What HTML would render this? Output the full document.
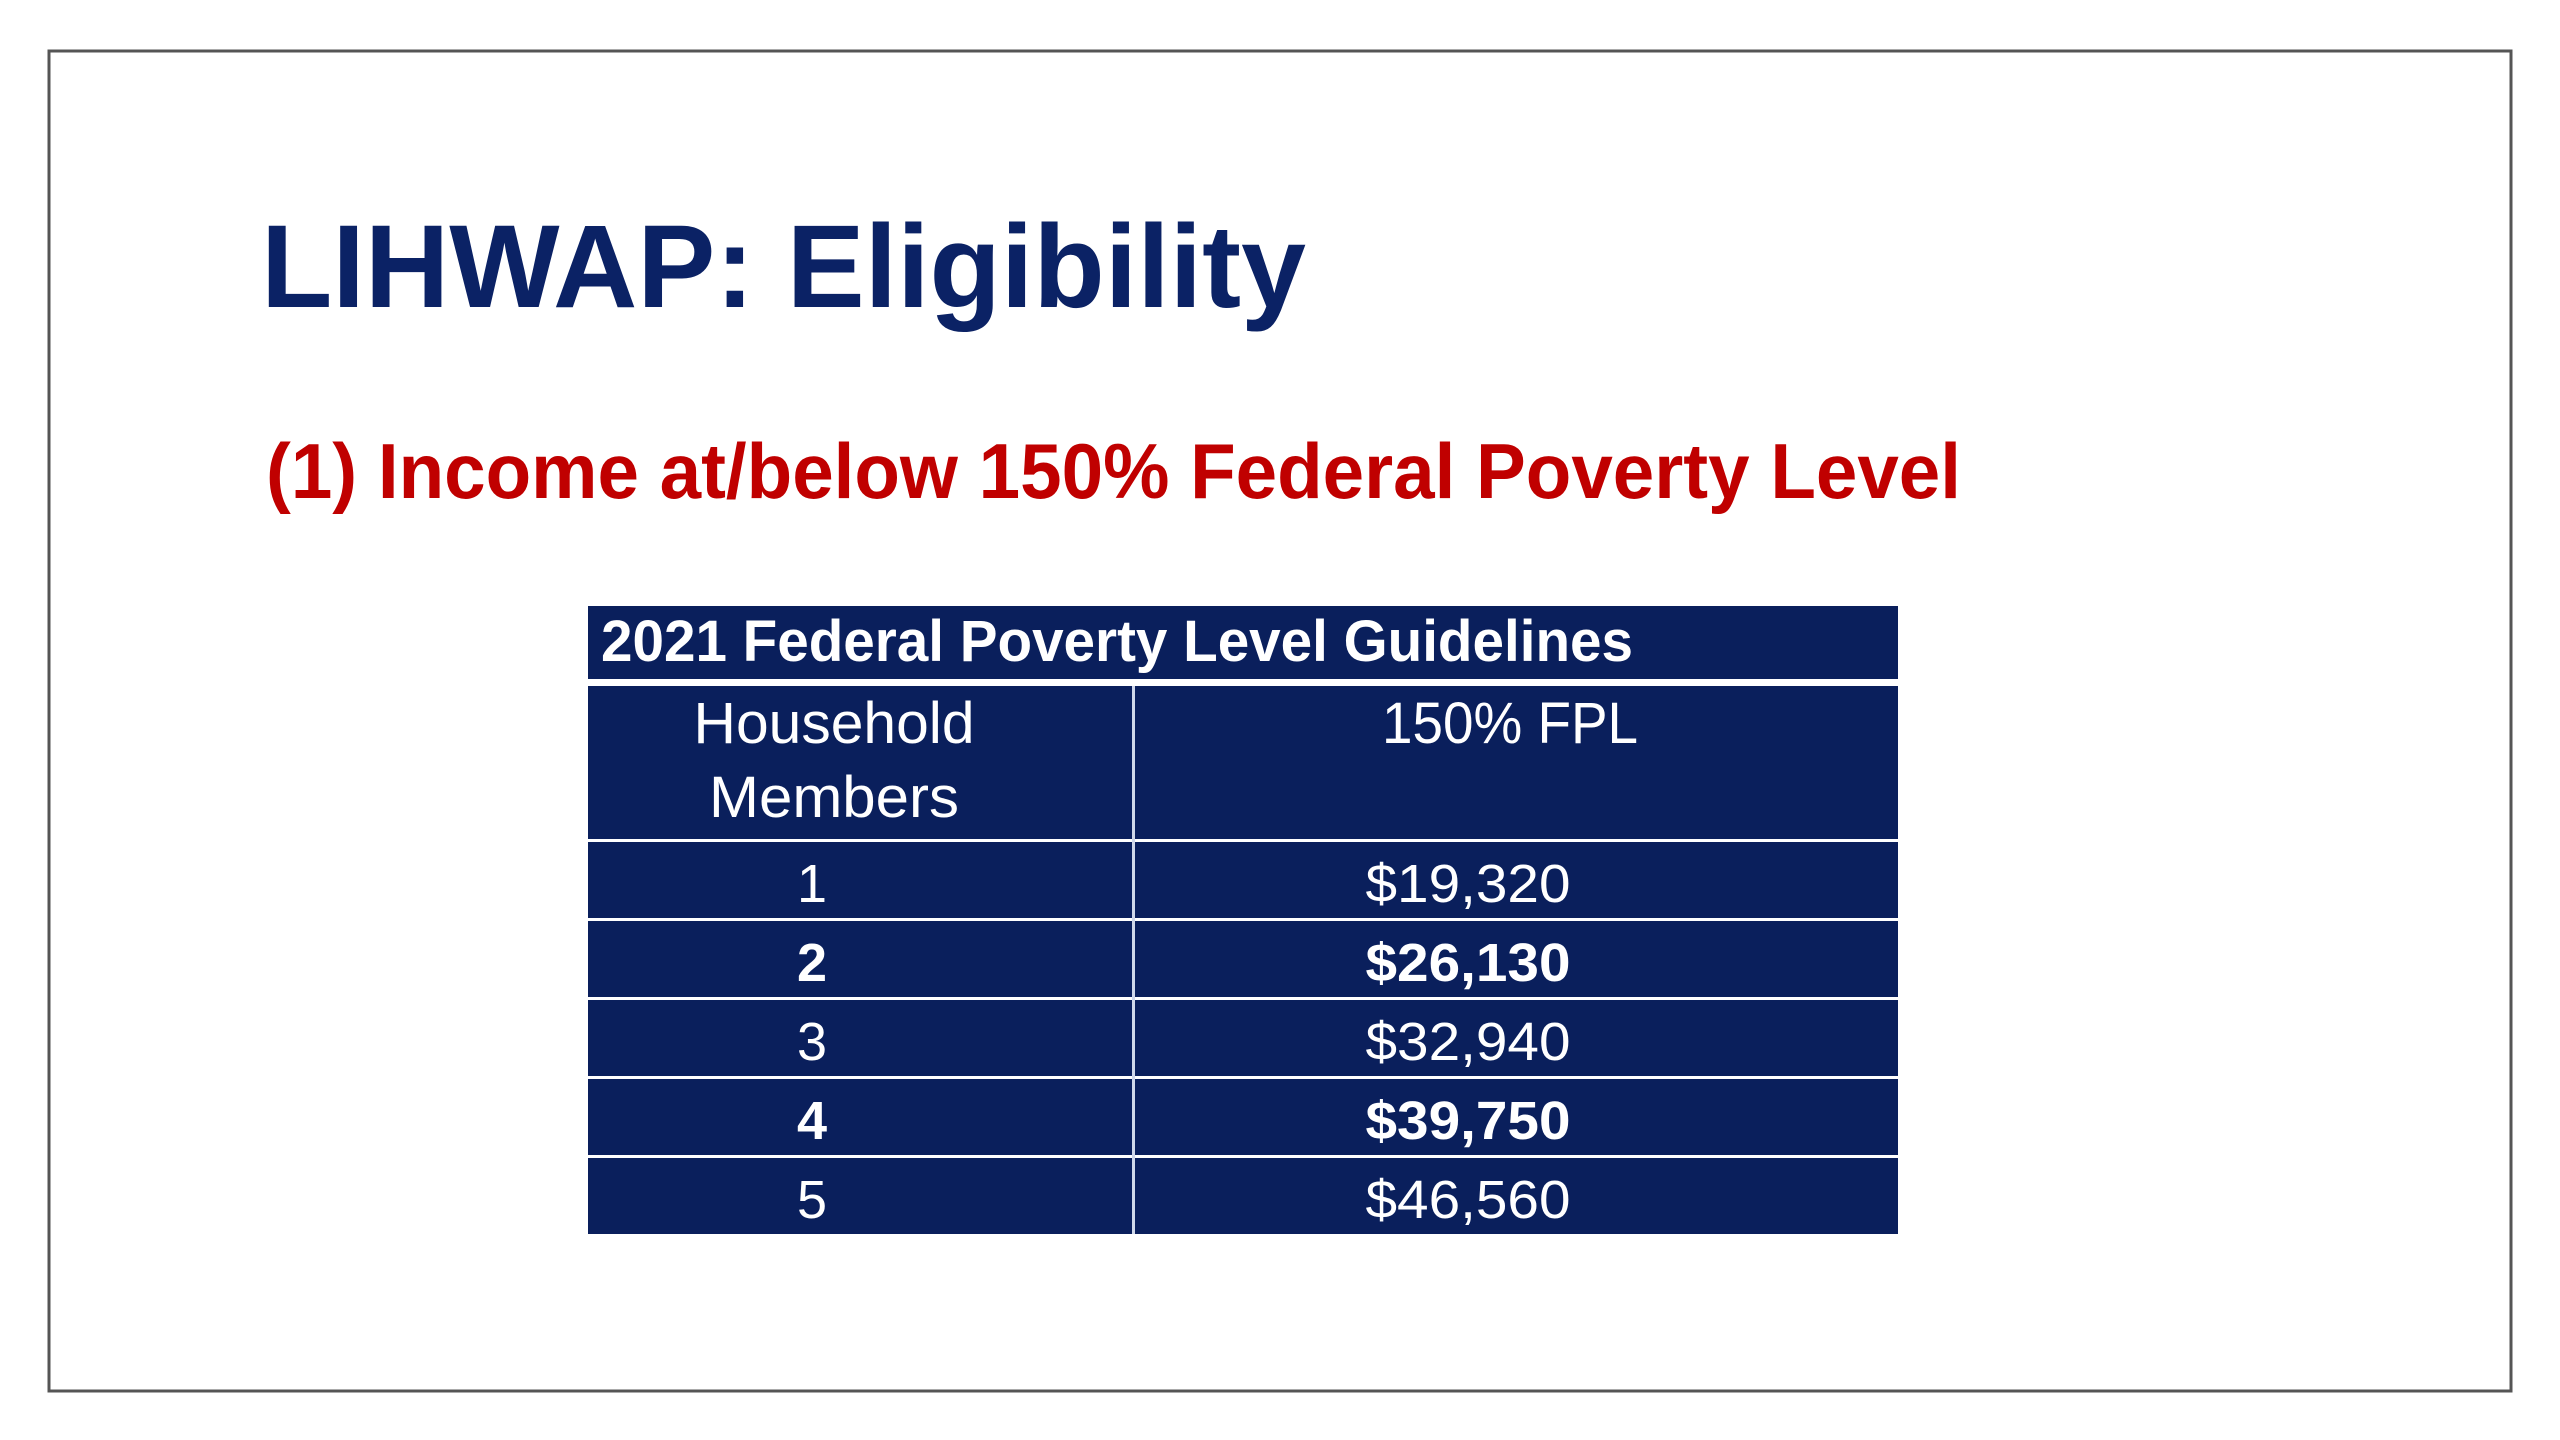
<!DOCTYPE html>
<html><head><meta charset="utf-8"><style>
html,body{margin:0;padding:0;background:#fff;}
svg{display:block;}
</style></head><body>
<svg width="2560" height="1440" viewBox="0 0 2560 1440" xmlns="http://www.w3.org/2000/svg">
<rect x="0" y="0" width="2560" height="1440" fill="#fff"/>
<rect x="49" y="51" width="2462" height="1340" fill="none" stroke="#555" stroke-width="3"/>
<text x="261" y="307" font-family="'Liberation Sans',sans-serif" font-weight="bold" font-size="118" fill="#0b2265" textLength="1045" lengthAdjust="spacingAndGlyphs">LIHWAP: Eligibility</text>
<text x="266" y="498" font-family="'Liberation Sans',sans-serif" font-weight="bold" font-size="78" fill="#c00000" textLength="1695" lengthAdjust="spacingAndGlyphs">(1) Income at/below 150% Federal Poverty Level</text>
<g id="tbl">
<rect x="588" y="606" width="1310" height="73" fill="#0a1f5c"/>
<text x="601" y="661" font-family="'Liberation Sans',sans-serif" font-weight="bold" font-size="58" fill="#fff" textLength="1032" lengthAdjust="spacingAndGlyphs">2021 Federal Poverty Level Guidelines</text>
<rect x="588" y="686" width="1310" height="153" fill="#0a1f5c"/>
<text x="834" y="743" text-anchor="middle" font-family="'Liberation Sans',sans-serif" font-size="58" fill="#fff" textLength="281" lengthAdjust="spacingAndGlyphs">Household</text>
<text x="834" y="817" text-anchor="middle" font-family="'Liberation Sans',sans-serif" font-size="58" fill="#fff" textLength="250" lengthAdjust="spacingAndGlyphs">Members</text>
<text x="1510" y="743" text-anchor="middle" font-family="'Liberation Sans',sans-serif" font-size="58" fill="#fff" textLength="256" lengthAdjust="spacingAndGlyphs">150% FPL</text>
</g>
</svg>
<script>
const members = ["1","2","3","4","5"];
const fplValues = ["$19,320","$26,130","$32,940","$39,750","$46,560"];
const boldRows = [false,true,false,true,false];
(function(){
  const ns="http://www.w3.org/2000/svg";
  const g=document.getElementById('tbl');
  const top=839, rowH=79, x0=588, w=1310, divX=1132;
  function mk(tag,attrs){const e=document.createElementNS(ns,tag);for(const k in attrs)e.setAttribute(k,attrs[k]);g.appendChild(e);return e;}
  members.forEach((m,i)=>{
    const y=top+i*rowH;
    const r=mk('rect',{x:x0,y:y+3,width:w,height:rowH-3,fill:'#0a1f5c'});
    
    
    const t1=mk('text',{x:812,y:y+rowH-16,'text-anchor':'middle','font-family':"'Liberation Sans',sans-serif",'font-size':54,fill:'#fff','font-weight':boldRows[i]?'bold':'normal'});
    t1.textContent=m;
    
    
    const t2=mk('text',{x:1468,y:y+rowH-16,'text-anchor':'middle','font-family':"'Liberation Sans',sans-serif",'font-size':54,fill:'#fff','font-weight':boldRows[i]?'bold':'normal',textLength:205,lengthAdjust:'spacingAndGlyphs'});
    t2.textContent=fplValues[i];
    
    
  });
  const bottom=top+members.length*rowH;
  const d=mk('rect',{x:divX,y:686,width:3,height:bottom-686,fill:'#d0d8ea'});
  
  
})();
</script>
</body></html>
